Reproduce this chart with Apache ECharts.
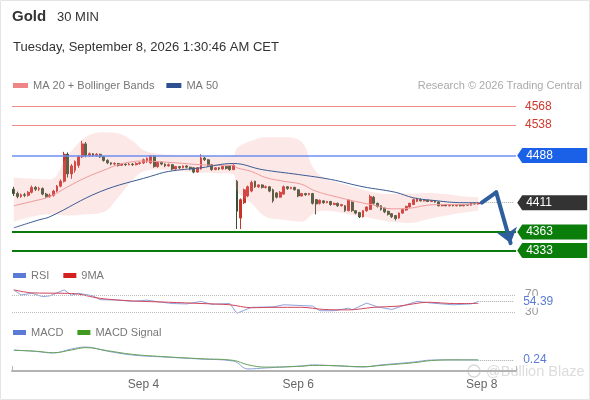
<!DOCTYPE html>
<html>
<head>
<meta charset="utf-8">
<script src="https://cdn.jsdelivr.net/npm/echarts@6/dist/echarts.min.js"></script>
<style>
  html, body { margin: 0; padding: 0; background: #fff; }
  #chart { width: 590px; height: 400px; }
</style>
</head>
<body>
<div id="chart"></div>
<script>
// 30 min candles
const opens = [
  4433, 4426, 4421, 4424, 4423, 4428, 4436, 4433, 4434, 4425,
  4421, 4423, 4430, 4438, 4446, 4490, 4458, 4464, 4472, 4486,
  4507, 4488, 4491, 4488, 4490, 4486, 4480, 4476, 4474, 4475,
  4472, 4474, 4473, 4474, 4473, 4475, 4476, 4479, 4476, 4487,
  4470, 4477, 4474, 4471, 4473, 4466, 4470, 4468, 4471, 4469,
  4468, 4461, 4466, 4484, 4481, 4473, 4465, 4468, 4466, 4470,
  4471, 4465, 4446, 4386, 4411, 4422, 4430, 4446, 4437, 4440,
  4436, 4437, 4432, 4427, 4420, 4425, 4437, 4434, 4436, 4432,
  4422, 4426, 4424, 4426, 4416, 4410, 4414, 4411, 4413, 4408,
  4410, 4406, 4406, 4398, 4412, 4398, 4395, 4388, 4398, 4400,
  4420, 4410, 4406, 4402, 4397, 4393, 4390, 4386, 4394, 4399,
  4404, 4408, 4413, 4416, 4414, 4415, 4413, 4414, 4412, 4406,
  4407, 4406, 4407, 4406, 4407, 4406, 4408, 4407, 4410, 4409
];
const closes = [
  4426, 4421, 4424, 4423, 4428, 4436, 4433, 4434, 4425, 4421,
  4423, 4430, 4438, 4446, 4490, 4458, 4471, 4478, 4486, 4507,
  4488, 4491, 4488, 4490, 4486, 4480, 4476, 4474, 4475, 4472,
  4474, 4473, 4474, 4473, 4475, 4476, 4481, 4483, 4487, 4470,
  4477, 4474, 4471, 4473, 4466, 4470, 4468, 4471, 4469, 4466,
  4461, 4468, 4484, 4481, 4472, 4465, 4468, 4466, 4470, 4467,
  4465, 4472, 4397, 4416, 4432, 4437, 4444, 4437, 4440, 4436,
  4437, 4430, 4414, 4420, 4428, 4437, 4434, 4436, 4432, 4422,
  4426, 4424, 4426, 4410, 4409, 4415, 4411, 4413, 4408, 4410,
  4406, 4408, 4398, 4415, 4398, 4394, 4388, 4398, 4404, 4421,
  4410, 4405, 4400, 4396, 4392, 4388, 4385, 4394, 4400, 4405,
  4410, 4416, 4417, 4414, 4415, 4413, 4414, 4412, 4406, 4407,
  4406, 4407, 4406, 4407, 4406, 4408, 4407, 4410, 4409, 4411
];
const lows = [
  4422, 4418, 4419, 4420, 4421, 4426, 4430, 4430, 4423, 4419,
  4419, 4421, 4428, 4436, 4444, 4452, 4450, 4460, 4468, 4484,
  4485, 4486, 4486, 4486, 4484, 4478, 4474, 4472, 4472, 4470,
  4471, 4471, 4472, 4471, 4472, 4473, 4474, 4476, 4474, 4468,
  4468, 4472, 4469, 4470, 4464, 4465, 4466, 4467, 4467, 4464,
  4459, 4460, 4465, 4479, 4470, 4463, 4464, 4464, 4465, 4465,
  4463, 4464, 4368, 4368, 4409, 4420, 4428, 4435, 4435, 4434,
  4434, 4428, 4411, 4418, 4419, 4424, 4432, 4433, 4431, 4420,
  4421, 4422, 4423, 4408, 4392, 4408, 4409, 4410, 4406, 4407,
  4404, 4405, 4396, 4397, 4396, 4392, 4386, 4387, 4396, 4399,
  4408, 4403, 4398, 4394, 4390, 4386, 4382, 4385, 4393, 4398,
  4403, 4407, 4412, 4413, 4413, 4412, 4412, 4411, 4405, 4405,
  4405, 4405, 4405, 4405, 4405, 4405, 4406, 4406, 4408, 4408
];
const highs = [
  4437, 4429, 4426, 4427, 4430, 4439, 4438, 4437, 4436, 4427,
  4426, 4432, 4440, 4449, 4494, 4493, 4474, 4480, 4488, 4512,
  4510, 4493, 4492, 4492, 4491, 4487, 4482, 4477, 4477, 4476,
  4475, 4475, 4476, 4476, 4477, 4478, 4483, 4485, 4489, 4488,
  4479, 4478, 4475, 4475, 4474, 4471, 4471, 4472, 4472, 4470,
  4469, 4469, 4490, 4486, 4482, 4474, 4469, 4469, 4471, 4471,
  4472, 4474, 4448, 4418, 4434, 4439, 4447, 4447, 4441, 4441,
  4439, 4438, 4434, 4428, 4430, 4439, 4438, 4437, 4437, 4433,
  4427, 4427, 4427, 4427, 4417, 4416, 4415, 4414, 4414, 4411,
  4411, 4409, 4407, 4417, 4413, 4399, 4396, 4399, 4405, 4424,
  4422, 4411, 4407, 4403, 4398, 4394, 4391, 4395, 4401, 4406,
  4411, 4418, 4419, 4418, 4416, 4416, 4415, 4415, 4413, 4408,
  4408, 4408, 4408, 4408, 4408, 4409, 4409, 4411, 4411, 4412
];

// MA 20 + Bollinger bands (sampled along the candles)
const bandIdx = [0, 5, 10, 15, 20, 25, 29, 33, 36, 40, 45, 52, 58, 61, 62, 66, 70, 75, 80, 83, 86, 90, 95, 100, 105, 110, 115, 120, 125, 129];
const ma20 =    [4406, 4413, 4421, 4437, 4452, 4464, 4473, 4478, 4479, 4478, 4476, 4473, 4472, 4472, 4468, 4462, 4452, 4446, 4441, 4432, 4426, 4420, 4413, 4407, 4401, 4402, 4407, 4408, 4408, 4410];
const bbUpper = [4452, 4450, 4449, 4488, 4518, 4526, 4524, 4512, 4497, 4491, 4489, 4488, 4487, 4488, 4500, 4512, 4518, 4518, 4510, 4470, 4452, 4444, 4436, 4428, 4425, 4426, 4427, 4425, 4421, 4420];
const bbLower = [4380, 4388, 4392, 4390, 4392, 4396, 4420, 4448, 4462, 4465, 4463, 4460, 4459, 4457, 4430, 4410, 4388, 4383, 4380, 4392, 4398, 4396, 4390, 4385, 4380, 4378, 4384, 4390, 4395, 4398];

const ma50Idx = [0, 7, 10, 24, 38, 43, 52, 61, 69, 79, 88, 97, 106, 111, 116, 125, 129];
const ma50 =    [4370, 4383, 4388, 4429, 4454, 4462, 4468, 4475, 4465, 4457, 4449, 4437, 4428, 4419, 4415, 4411, 4411];

// RSI pane
const rsiIdx = [0, 2, 5, 8, 10, 14, 16, 18, 22, 24, 29, 33, 37, 41, 44, 48, 52, 55, 60, 62, 64, 66, 72, 75, 83, 85, 89, 93, 94, 98, 101, 105, 109, 112, 116, 122, 127, 129];
const rsi =    [82, 70, 74, 66, 68, 82, 70, 74, 68, 59, 58, 55, 58, 53, 50, 49, 55, 48, 50, 27, 34, 41, 42, 47, 44, 33, 33, 39, 35, 51, 42, 36, 47, 55, 51, 47, 49, 54.39];
const rsiMaIdx = [0, 5, 14, 18, 24, 33, 43, 52, 60, 66, 72, 80, 86, 93, 100, 107, 115, 122, 129];
const rsiMa =    [82, 75, 74, 72, 62, 56, 53, 50, 47, 40, 41, 41, 36, 35, 41, 44, 53, 50, 50];

// MACD pane
const macdIdx = [0, 6, 11, 16, 20, 26, 33, 42, 52, 61, 65, 70, 80, 83, 90, 97, 102, 111, 116, 122, 129];
const macd =    [6.2, 5.4, 4.4, 6.8, 8.0, 5.5, 3.2, 2.0, 0.8, -0.4, -5.1, -4.5, -3.3, -2.7, -3.3, -3.9, -2.7, -1.0, 0.2, 0.3, 0.24];
const signal =  [6.0, 5.5, 4.6, 6.2, 7.6, 5.8, 3.6, 2.2, 1.0, 0.0, -2.6, -4.0, -3.5, -3.0, -3.2, -3.8, -3.0, -1.4, -0.1, 0.3, 0.3];

// levels and forecast
const resistance = [4568, 4538];
const pivot = 4488;
const lastPrice = 4411;
const supports = [4363, 4333];
const forecastIdx = [130, 134, 138];
const forecastVal = [4411, 4428, 4345];
const rsiLevels = [70, 30];
const rsiLast = 54.39;
const macdLast = 0.24;

const tickIdx = [36, 79, 130];
const tickText = ['Sep 4', 'Sep 6', 'Sep 8'];
const slots = 140;

const FONT = "'Liberation Sans', Arial, sans-serif";
const last = closes.length - 1;
const cats = [];
for (let i = 0; i < slots; i++) cats.push(String(i));
const ohlc = opens.map((o, i) => [o, closes[i], lows[i], highs[i]]);
const pairs = (idx, vals) => idx.map((x, i) => [x, vals[i]]);
const bandSpan = bbUpper.map((v, i) => v - bbLower[i]);

const boxPath = 'path://M0,7.5 L5,0 L70,0 L70,15 L5,15 Z';
const box = (v, color) => ({
  coord: [slots - 1, v], value: v,
  symbol: boxPath, symbolSize: [70, 15], symbolOffset: [38, 0],
  itemStyle: { color: color },
  label: { show: true, position: 'insideLeft', distance: 9, color: '#fff', fontSize: 12, fontFamily: FONT, formatter: String(v) }
});
const arrowStyle = { color: '#2f5e9c', width: 4, type: 'solid', cap: 'round' };
const dotted = { color: '#aaa', width: 1, type: 'dotted' };
const endLabel = (text, color, extra) => Object.assign({ show: true, position: 'end', distance: 9, formatter: text, color: color, fontSize: 12, fontFamily: FONT }, extra || {});

const xAxisFor = (g, show) => ({
  type: 'category', gridIndex: g, data: cats, boundaryGap: true,
  axisLine: { show: show, onZero: false, lineStyle: { color: '#b3b3b3', width: 2 } },
  axisTick: { show: show, inside: true, length: 5, interval: (i) => i === 0, lineStyle: { color: '#b3b3b3' } },
  axisLabel: {
    show: show, interval: (i) => tickIdx.includes(i), margin: 8,
    formatter: (v, i) => { const k = tickIdx.indexOf(i); return k >= 0 ? tickText[k] : ''; },
    color: '#666', fontSize: 12, fontFamily: FONT
  },
  splitLine: { show: false }
});

const myChart = echarts.init(document.getElementById('chart'));
const option = {
  animation: false,
  backgroundColor: '#fff',
  textStyle: { fontFamily: FONT },
  title: [
    { text: 'Gold', left: 12, top: 9, padding: 0, textStyle: { fontSize: 15, fontWeight: 'bold', color: '#333', fontFamily: FONT } },
    { text: '30 MIN', left: 57, top: 11, padding: 0, textStyle: { fontSize: 13, fontWeight: 'normal', color: '#333', fontFamily: FONT } },
    { text: 'Tuesday, September 8, 2026 1:30:46 AM CET', left: 13, top: 41, padding: 0, textStyle: { fontSize: 13, fontWeight: 'normal', color: '#333', fontFamily: FONT } },
    { text: 'Research © 2026 Trading Central', right: 8, top: 80, padding: 0, textStyle: { fontSize: 11, fontWeight: 'normal', color: '#aaa', fontFamily: FONT } }
  ],
  legend: [
    {
      left: 13, top: 80, padding: 0, itemWidth: 15, itemHeight: 5, itemGap: 12, icon: 'rect', selectedMode: false,
      textStyle: { color: '#777', fontSize: 11 },
      data: [
        { name: 'MA 20 + Bollinger Bands', itemStyle: { color: '#f08585' } },
        { name: 'MA 50', itemStyle: { color: '#2e5090' } }
      ]
    },
    {
      left: 13, top: 270, padding: 0, itemWidth: 13, itemHeight: 5, itemGap: 14, icon: 'rect', selectedMode: false,
      textStyle: { color: '#777', fontSize: 11 },
      data: [
        { name: 'RSI', itemStyle: { color: '#5b7bd6' } },
        { name: '9MA', itemStyle: { color: '#d41f1f' } }
      ]
    },
    {
      left: 13, top: 327, padding: 0, itemWidth: 13, itemHeight: 5, itemGap: 14, icon: 'rect', selectedMode: false,
      textStyle: { color: '#777', fontSize: 11 },
      data: [
        { name: 'MACD', itemStyle: { color: '#5b7bd6' } },
        { name: 'MACD Signal', itemStyle: { color: '#3f9a1f' } }
      ]
    }
  ],
  grid: [
    { left: 12, right: 74, top: 93.02, height: 168.5 },
    { left: 12, right: 74, top: 282.25, height: 42.5 },
    { left: 12, right: 74, top: 343.65, height: 27.47 }
  ],
  xAxis: [xAxisFor(0, false), xAxisFor(1, false), xAxisFor(2, true)],
  yAxis: [
    { gridIndex: 0, min: 4315, max: 4590, show: false, splitLine: { show: false } },
    { gridIndex: 1, min: 0, max: 100, show: false, splitLine: { show: false } },
    { gridIndex: 2, min: -6.4, max: 10, show: false, splitLine: { show: false } }
  ],
  graphic: [
    { type: 'rect', silent: true, shape: { x: 0.5, y: 0.5, width: 589, height: 399 }, style: { fill: 'none', stroke: '#e4e4e4' } },
    { type: 'circle', silent: true, shape: { cx: 474, cy: 371, r: 6 }, style: { fill: 'none', stroke: '#dadada', lineWidth: 1.5 } },
    { type: 'text', silent: true, x: 486, y: 372, style: { text: '@Bullion Blaze', fill: '#dcdcdc', fontSize: 14.5, fontFamily: FONT, verticalAlign: 'middle' } }
  ],
  series: [
    {
      name: 'bbLower', type: 'line', xAxisIndex: 0, yAxisIndex: 0, stack: 'bb', smooth: 0.4,
      symbol: 'none', silent: true, lineStyle: { opacity: 0 }, data: pairs(bandIdx, bbLower)
    },
    {
      name: 'bbBand', type: 'line', xAxisIndex: 0, yAxisIndex: 0, stack: 'bb', smooth: 0.4,
      symbol: 'none', silent: true, lineStyle: { opacity: 0 },
      areaStyle: { color: 'rgba(245,150,150,0.32)' }, data: pairs(bandIdx, bandSpan)
    },
    {
      name: 'MA 20 + Bollinger Bands', type: 'line', xAxisIndex: 0, yAxisIndex: 0, smooth: 0.4,
      symbol: 'none', silent: true, lineStyle: { color: '#ee9a9a', width: 1 }, data: pairs(bandIdx, ma20)
    },
    {
      name: 'MA 50', type: 'line', xAxisIndex: 0, yAxisIndex: 0, smooth: 0.4,
      symbol: 'none', silent: true, lineStyle: { color: '#3b5a92', width: 1 }, data: pairs(ma50Idx, ma50)
    },
    {
      name: 'Gold', type: 'candlestick', xAxisIndex: 0, yAxisIndex: 0, clip: false,
      barWidth: 2.4, data: ohlc,
      itemStyle: { color: '#c8322c', color0: '#35502f', borderColor: '#c8322c', borderColor0: '#35502f', borderWidth: 1 },
      markLine: {
        silent: true, animation: false, symbol: ['none', 'none'], label: { show: false },
        data: [
          ...resistance.map(v => ({ yAxis: v, lineStyle: { color: '#ee8c8c', width: 1, type: 'solid' }, label: endLabel(String(v), '#cf3a2c') })),
          { yAxis: pivot, lineStyle: { color: '#6d8ff0', width: 1.5, type: 'solid' }, label: { show: false } },
          ...supports.map(v => ({ yAxis: v, lineStyle: { color: '#0a7a0a', width: 2, type: 'solid' }, label: { show: false } })),
          [{ coord: [last, lastPrice], lineStyle: dotted, label: { show: false } }, { coord: [slots - 1, lastPrice], lineStyle: dotted }],
          [{ coord: [forecastIdx[0], forecastVal[0]], lineStyle: arrowStyle, label: { show: false } }, { coord: [forecastIdx[1], forecastVal[1]], lineStyle: arrowStyle }],
          [{ coord: [forecastIdx[1], forecastVal[1]], lineStyle: arrowStyle, label: { show: false } },
           { coord: [forecastIdx[2], forecastVal[2]], lineStyle: arrowStyle, symbol: 'arrow', symbolSize: [16, 14] }]
        ]
      },
      markPoint: {
        silent: true, animation: false,
        data: [box(pivot, '#1b61e8'), box(lastPrice, '#333333'), box(supports[0], '#0b7d0b'), box(supports[1], '#0b7d0b')]
      }
    },
    {
      name: 'RSI', type: 'line', xAxisIndex: 1, yAxisIndex: 1, clip: false,
      symbol: 'none', silent: true, lineStyle: { color: '#8fa2dc', width: 1 }, data: pairs(rsiIdx, rsi),
      markLine: {
        silent: true, animation: false, symbol: ['none', 'none'], label: { show: false },
        data: [
          ...rsiLevels.map(v => ({ yAxis: v, lineStyle: { color: '#bbb', width: 1, type: 'dotted' }, label: endLabel(String(v), '#999') })),
          [{ coord: [last, rsiLast], lineStyle: dotted, label: endLabel(String(rsiLast), '#5b7bd6', { backgroundColor: '#fff', padding: [0, 2, 0, 0] }) },
           { coord: [slots - 1, rsiLast], lineStyle: dotted }]
        ]
      }
    },
    {
      name: '9MA', type: 'line', xAxisIndex: 1, yAxisIndex: 1, smooth: 0.3,
      symbol: 'none', silent: true, lineStyle: { color: '#d0465a', width: 1 }, data: pairs(rsiMaIdx, rsiMa)
    },
    {
      name: 'MACD', type: 'line', xAxisIndex: 2, yAxisIndex: 2, smooth: 0.4, clip: false,
      symbol: 'none', silent: true, lineStyle: { color: '#8aa0d8', width: 1 }, data: pairs(macdIdx, macd),
      markLine: {
        silent: true, animation: false, symbol: ['none', 'none'], label: { show: false },
        data: [
          [{ coord: [last, macdLast], lineStyle: dotted, label: endLabel(String(macdLast), '#5b7bd6') },
           { coord: [slots - 1, macdLast], lineStyle: dotted }]
        ]
      }
    },
    {
      name: 'MACD Signal', type: 'line', xAxisIndex: 2, yAxisIndex: 2, smooth: 0.4,
      symbol: 'none', silent: true, lineStyle: { color: '#6aa25a', width: 1 }, data: pairs(macdIdx, signal)
    }
  ]
};
myChart.setOption(option);
</script>
</body>
</html>
